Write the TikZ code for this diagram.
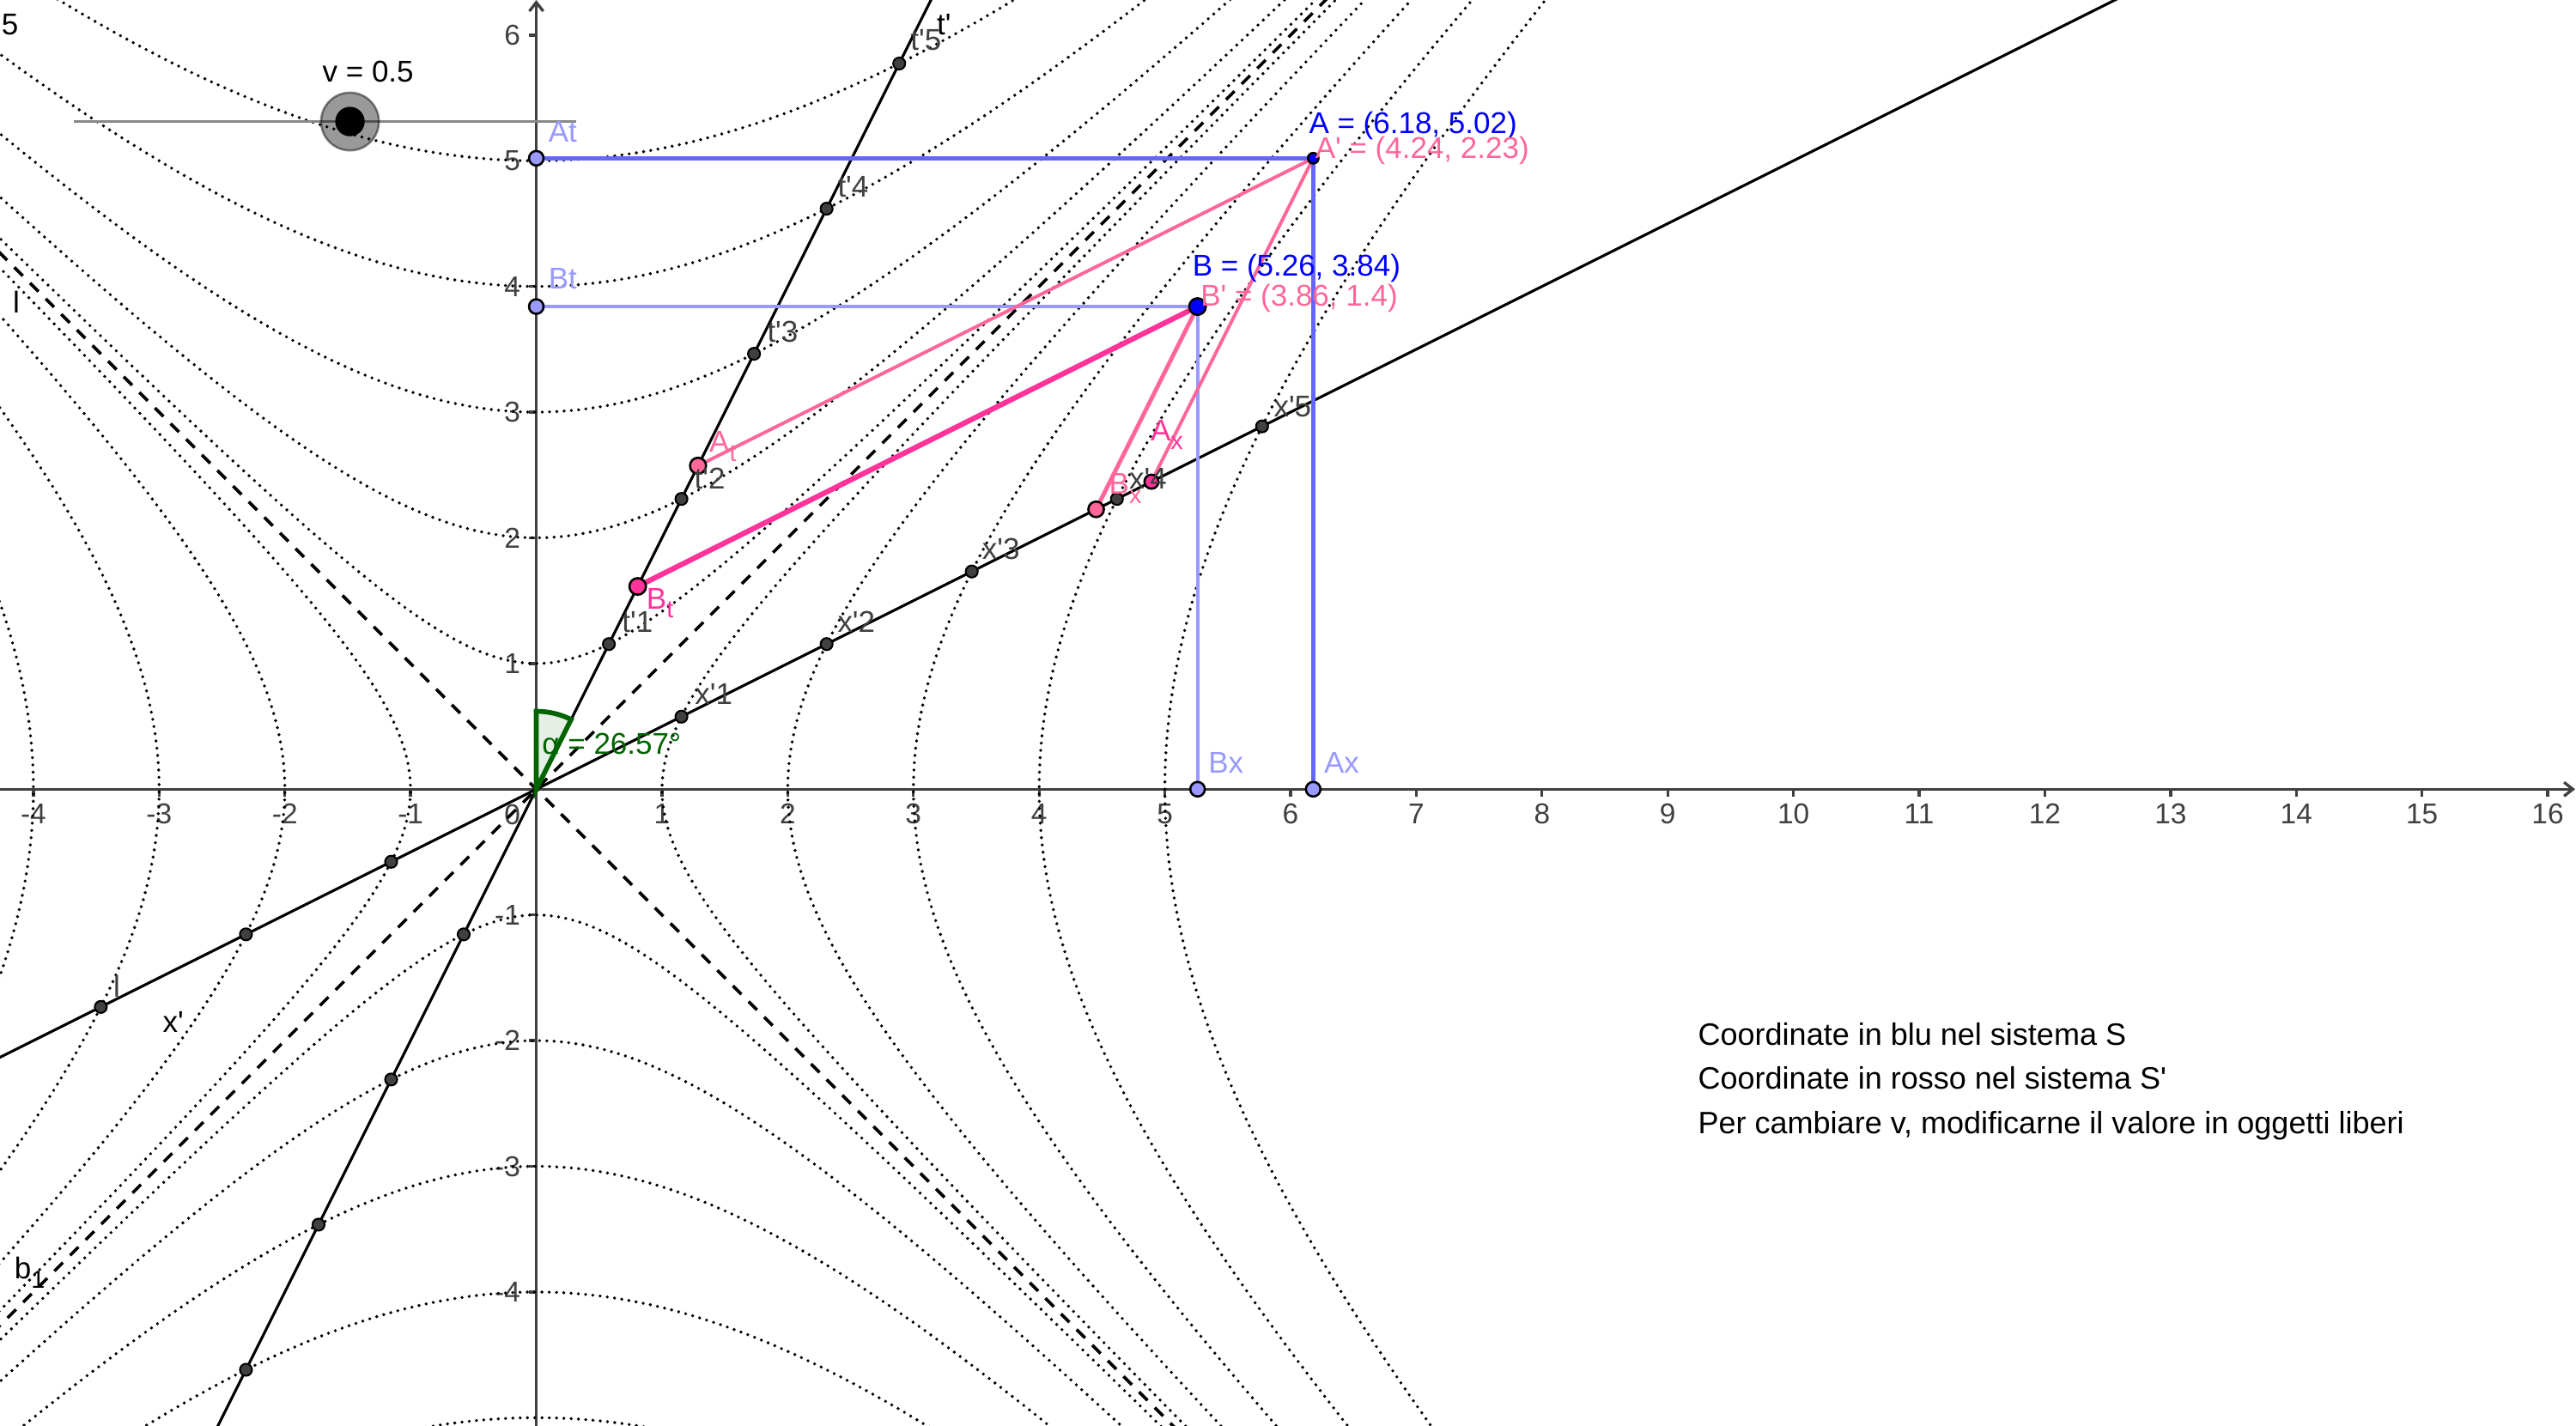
\documentclass[tikz,border=0pt]{standalone}
\usepackage{fontspec}
\newfontfamily\ggfont{Liberation Sans}
\definecolor{axisgray}{HTML}{404040}
\definecolor{gblue}{HTML}{0000FF}
\definecolor{mblue}{HTML}{6666FF}
\definecolor{lblue}{HTML}{9999FF}
\definecolor{lpink}{HTML}{FF6699}
\definecolor{hpink}{HTML}{FF3399}
\definecolor{dgreen}{HTML}{006400}
\definecolor{ptgray}{HTML}{404040}
\definecolor{slidergray}{HTML}{888888}
\tikzset{
  axisline/.style={line width=0.65pt, draw=axisgray},
  hyp/.style={line width=0.75pt, line cap=round, dash pattern=on 0pt off 1.65pt},
  cone/.style={line width=0.7pt, dash pattern=on 2.7pt off 2.3pt},
  frame/.style={line width=0.6pt, draw=black},
  bluemain/.style={line width=0.85pt, draw=mblue},
  bluelight/.style={line width=0.8pt, draw=lblue},
  pinkthin/.style={line width=0.75pt, draw=lpink},
  pinkmid/.style={line width=0.95pt, draw=lpink},
  pinkthick/.style={line width=1.2pt, draw=hpink},
  pt/.style={draw=black, line width=0.4pt},
  lab/.style={anchor=base west, inner sep=0pt},
  ticklab/.style={inner sep=0pt, text=axisgray, font=\ggfont\fontsize{6.5}{7.5}\selectfont},
  txt/.style={anchor=base west, inner sep=0pt, font=\ggfont\fontsize{7}{8.4}\selectfont},
}
\newcommand{\subl}[1]{\raisebox{-0.55ex}{\fontsize{5.6}{6}\selectfont #1}}
\begin{document}
\begin{tikzpicture}[x=1cm,y=1cm,font=\ggfont\fontsize{6.8}{8}\selectfont]
\useasboundingbox (-4.266,-5.066) rectangle (16.225,6.279);
\begin{scope}
\clip (-4.266,-5.066) rectangle (16.225,6.279);
% ---------- named coordinates
\coordinate (O) at (0,0);
\coordinate (xl) at (-4.3,0);
\coordinate (xr) at (16.2,0);
\coordinate (yb) at (0,-5.1);
\coordinate (yt) at (0,6.26);
\coordinate (c1a) at (-5.2,-5.2);
\coordinate (c1b) at (6.4,6.4);
\coordinate (c2a) at (-4.4,4.4);
\coordinate (c2b) at (5.2,-5.2);
\coordinate (tlo) at (-2.6,-5.2);
\coordinate (thi) at (3.2,6.4);
\coordinate (xlo) at (-4.4,-2.2);
\coordinate (xhi) at (12.7,6.35);
\coordinate (A) at (6.18,5.02);
\coordinate (B) at (5.26,3.84);
\coordinate (At) at (0,5.02);
\coordinate (Bt) at (0,3.84);
\coordinate (Ax) at (6.18,0);
\coordinate (Bx) at (5.26,0);
\coordinate (Atp) at (1.2867,2.5733);
\coordinate (Axp) at (4.8933,2.4467);
\coordinate (Btp) at (0.8067,1.6133);
\coordinate (Bxp) at (4.4533,2.2267);
\coordinate (sl1) at (-3.677,5.312);
\coordinate (sl2) at (0.317,5.312);
\coordinate (knob) at (-1.482,5.312);
% ---------- axes
\draw[axisline] (xl) -- (xr);
\draw[axisline] (yb) -- (yt);
\draw[axisline] (-0.055,6.19) -- (yt) -- (0.055,6.19);
\draw[axisline] (16.13,0.055) -- (xr) -- (16.13,-0.055);
\foreach \i in {-4,...,-1,1,2,...,16}{
  \draw[axisline] (\i,0) -- (\i,-0.06);
  \node[ticklab, anchor=north] at (\i,-0.11) {\i};
}
\foreach \i in {-4,...,-1,1,2,...,6}{
  \draw[axisline] (0,\i) -- (-0.06,\i);
  \node[ticklab, anchor=east] at (-0.12,\i) {\i};
}
\node[ticklab] at (-0.19,-0.2) {0};
% ---------- hyperbolas
\foreach \N in {1,...,5}{
  \draw[hyp] plot[domain=-4.3:6.35, samples=160] (\x,{sqrt(\N*\N+\x*\x)});
  \draw[hyp] plot[domain=-4.3:5.15, samples=160] (\x,{-sqrt(\N*\N+\x*\x)});
  \draw[hyp] plot[domain=-5.15:6.35, samples=160] ({sqrt(\N*\N+\x*\x)},\x);
  \draw[hyp] plot[domain=-5.15:6.35, samples=160] ({-sqrt(\N*\N+\x*\x)},\x);
}
% ---------- light cone
\draw[cone] (c1a) -- (c1b);
\draw[cone] (c2a) -- (c2b);
% ---------- primed axes
\draw[frame] (tlo) -- (thi);
\draw[frame] (xlo) -- (xhi);
% ---------- angle
\fill[dgreen, fill opacity=0.1] (O) -- (63.435:0.62) arc[start angle=63.435, end angle=90, radius=0.62] -- cycle;
\draw[dgreen, line width=1.1pt] (O) -- (63.435:0.62) arc[start angle=63.435, end angle=90, radius=0.62] -- cycle;
% ---------- blue projections
\draw[bluemain] (At) -- (A) -- (Ax);
\draw[bluelight] (Bt) -- (B) -- (Bx);
% ---------- pink construction
\draw[pinkthin] (Atp) -- (A);
\draw[pinkthin] (Axp) -- (A);
\draw[pinkmid] (Bxp) -- (B);
\draw[pinkthick] (Btp) -- (B);
% ---------- tick points on t' and x'
\foreach \i in {-4,...,-1,1,2,...,5}{
  \filldraw[pt, fill=ptgray] ({0.57735*\i},{1.154701*\i}) circle (0.048);
}
\foreach \i in {-3,...,-1,1,2,...,5}{
  \filldraw[pt, fill=ptgray] ({1.154701*\i},{0.57735*\i}) circle (0.048);
}
% ---------- points
\filldraw[pt, fill=lblue, line width=0.5pt] (At) circle (0.058);
\filldraw[pt, fill=lblue, line width=0.5pt] (Bt) circle (0.058);
\filldraw[pt, fill=lblue, line width=0.5pt] (Ax) circle (0.058);
\filldraw[pt, fill=lblue, line width=0.5pt] (Bx) circle (0.058);
\filldraw[pt, fill=lpink, line width=0.5pt] (Atp) circle (0.064);
\filldraw[pt, fill=hpink, line width=0.5pt] (Btp) circle (0.066);
\filldraw[pt, fill=lpink, line width=0.5pt] (Bxp) circle (0.062);
\filldraw[pt, fill=hpink, line width=0.5pt] (Axp) circle (0.056);
\filldraw[pt, fill=gblue, line width=0.5pt] (A) circle (0.042);
\filldraw[pt, fill=gblue, line width=0.5pt] (B) circle (0.066);
% ---------- slider
\draw[slidergray, line width=0.65pt] (sl1) -- (sl2);
\filldraw[fill=black, fill opacity=0.4, draw=black, draw opacity=0.45, line width=0.5pt] (knob) circle (0.23);
\fill[black] (knob) circle (0.117);
\end{scope}
% ---------- labels
\node[lab] (labv) at (-1.707,5.624) {v = 0.5};
\node[lab] (lab5) at (-4.26,6.0) {5};
\node[lab] (labl1) at (-4.17,3.79) {l};
\node[lab, text=axisgray] (labl2) at (-3.37,-1.654) {l};
\node[lab] (labxp) at (-2.977,-1.933) {x'};
\node[lab] (labb1) at (-4.157,-3.898) {b\subl{1}};
\node[lab, text=gblue] (labA) at (6.14,5.215) {A = (6.18, 5.02)};
\node[lab, text=lpink] (labAp) at (6.19,5.02) {A' = (4.24, 2.23)};
\node[lab, text=gblue] (labB) at (5.213,4.08) {B = (5.26, 3.84)};
\node[lab, text=lpink] (labBp) at (5.278,3.847) {B' = (3.86, 1.4)};
\node[lab, text=lblue] (labAt) at (0.09,5.146) {At};
\node[lab, text=lblue] (labBt) at (0.09,3.98) {Bt};
\node[lab, text=lblue] (labAx) at (6.26,0.127) {Ax};
\node[lab, text=lblue] (labBx) at (5.34,0.127) {Bx};
\node[lab] (labtp) at (3.18,6.0) {t'};
\node[lab, text=axisgray] (labt5) at (2.97,5.877) {t'5};
\node[lab, text=axisgray] (labt4) at (2.39,4.71) {t'4};
\node[lab, text=axisgray] (labt3) at (1.83,3.556) {t'3};
\node[lab, text=axisgray] (labt2) at (1.25,2.39) {t'2};
\node[lab, text=axisgray] (labt1) at (0.675,1.25) {t'1};
\node[lab, text=axisgray] (labx1) at (1.255,0.674) {x'1};
\node[lab, text=axisgray] (labx2) at (2.39,1.25) {x'2};
\node[lab, text=axisgray] (labx3) at (3.54,1.83) {x'3};
\node[lab, text=axisgray] (labx4) at (4.71,2.39) {x'4};
\node[lab, text=axisgray] (labx5) at (5.86,2.96) {x'5};
\node[lab, text=lpink] (labAtp) at (1.37,2.68) {A\subl{t}};
\node[lab, text=hpink] (labAxp) at (4.88,2.77) {A\subl{x}};
\node[lab, text=lpink] (labBxp) at (4.55,2.345) {B\subl{x}};
\node[lab, text=hpink] (labBtp) at (0.87,1.435) {B\subl{t}};
\node[lab, text=dgreen] (labalpha) at (0.04,0.28) {α = 26.57°};
\node[txt] (note1) at (9.235,-2.035) {Coordinate in blu nel sistema S};
\node[txt] (note2) at (9.235,-2.388) {Coordinate in rosso nel sistema S'};
\node[txt] (note3) at (9.235,-2.741) {Per cambiare v, modificarne il valore in oggetti liberi};
\end{tikzpicture}
\end{document}
